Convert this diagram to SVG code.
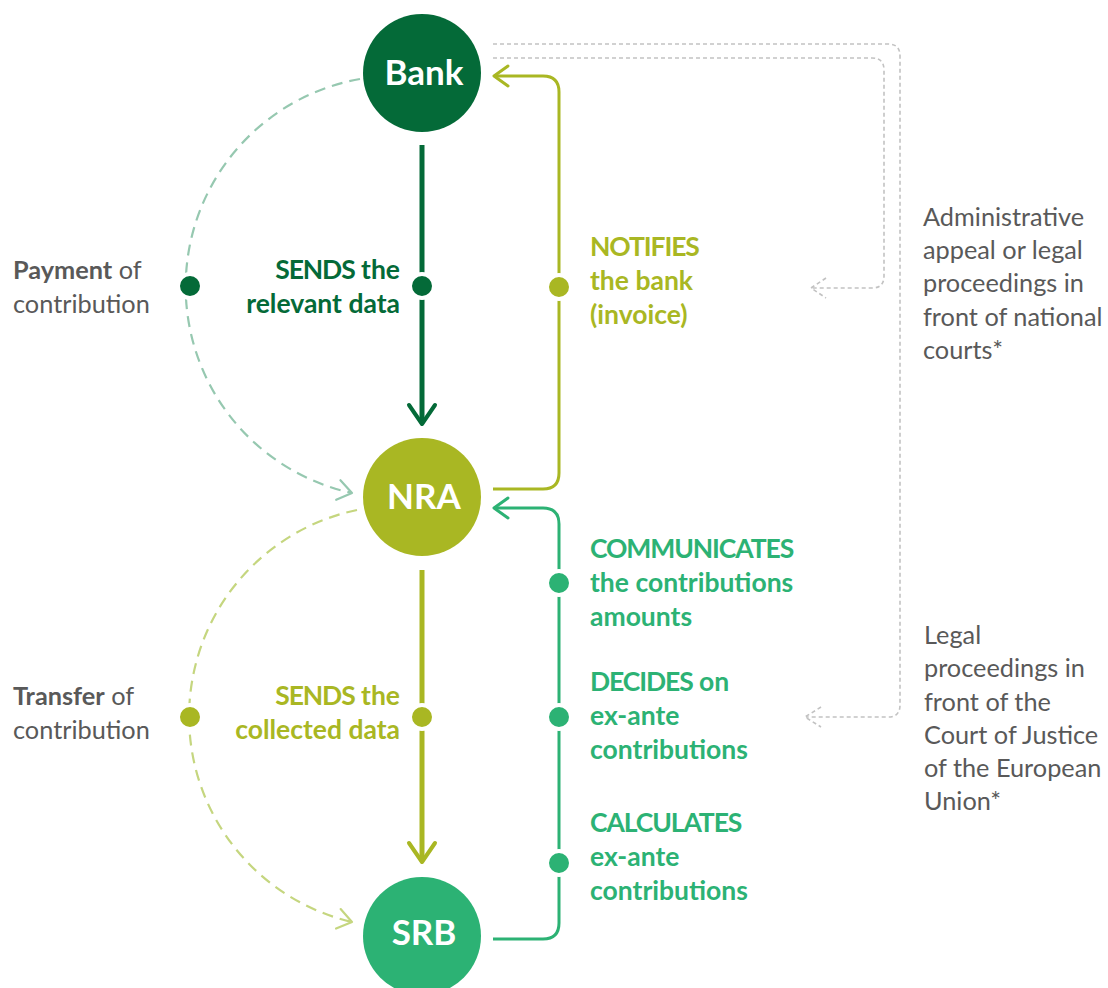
<svg xmlns="http://www.w3.org/2000/svg" width="1108" height="988" viewBox="0 0 1108 988">
  <style>
    .node-label { font-family: Lato, "Open Sans", sans-serif; font-weight: 700; font-size: 35px; fill: #ffffff; text-anchor: middle; }
    .lbl { font-family: Lato, "Open Sans", sans-serif; font-weight: 700; font-size: 26.5px; }
    .caps { letter-spacing: -1.1px; }
    .note { font-family: Lato, "Open Sans", sans-serif; font-weight: 400; font-size: 25.3px; fill: #595959; }
    .note .b { font-weight: 700; }
    .dkgreen { fill: #046a38; }
    .olive { fill: #a9b723; }
    .green { fill: #2cb274; }
    .dot { stroke: #ffffff; stroke-width: 4; }
    .gray-dotted { fill: none; stroke: #c2c2c2; stroke-width: 1.6; stroke-dasharray: 4 3; }
    .head { fill: none; stroke-linecap: round; stroke-linejoin: round; }
  </style>
  <defs>
    <marker id="head-teal" markerUnits="userSpaceOnUse" markerWidth="30" markerHeight="30" viewBox="-20 -15 30 30" refX="0" refY="0" orient="auto">
      <path d="M-14,-10 L0,0 L-14,10" fill="none" stroke="#96c8b0" stroke-width="2.2" stroke-linecap="round" stroke-linejoin="round"/>
    </marker>
    <marker id="head-lime" markerUnits="userSpaceOnUse" markerWidth="30" markerHeight="30" viewBox="-20 -15 30 30" refX="0" refY="0" orient="auto">
      <path d="M-14,-10 L0,0 L-14,10" fill="none" stroke="#c5d67f" stroke-width="2.2" stroke-linecap="round" stroke-linejoin="round"/>
    </marker>
  </defs>

  <rect width="1108" height="988" fill="#ffffff"/>

  <g id="connectors">
    <!-- appeal routes (gray dotted) -->
    <path class="gray-dotted" d="M493,44 H888 Q900,44 900,56 V705 Q900,717 888,717 H806"/>
    <path class="gray-dotted" d="M821,707 L805,717 L821,727" stroke-dasharray="none"/>
    <path class="gray-dotted" d="M493,58 H872 Q884,58 884,70 V276 Q884,288 872,288 H812"/>
    <path class="gray-dotted" d="M826,278 L811,288 L826,298" stroke-dasharray="none"/>

    <!-- payment of contribution: bank -> NRA -->
    <path d="M360,79 A211,211 0 0 0 352,493" fill="none" stroke="#96c8b0" stroke-width="2.2" stroke-dasharray="11 7" marker-end="url(#head-teal)"/>
    <!-- transfer of contribution: NRA -> SRB -->
    <path d="M357,510 A211,211 0 0 0 352,922" fill="none" stroke="#c5d67f" stroke-width="2.2" stroke-dasharray="11 7" marker-end="url(#head-lime)"/>

    <!-- bank sends data to NRA -->
    <path d="M422,145 V423" stroke="#046a38" stroke-width="5" fill="none"/>
    <path class="head" d="M409,405 L422,424 L435,405" stroke="#046a38" stroke-width="4"/>
    <!-- NRA sends collected data to SRB -->
    <path d="M422,570 V861" stroke="#a9b723" stroke-width="5" fill="none"/>
    <path class="head" d="M409,843 L422,862 L435,843" stroke="#a9b723" stroke-width="4"/>

    <!-- NRA notifies the bank -->
    <path d="M493,489 H543 Q559,489 559,473 V92 Q559,76 543,76 H495" fill="none" stroke="#a9b723" stroke-width="3"/>
    <path class="head" d="M508,66 L494,76 L508,86" stroke="#a9b723" stroke-width="3"/>
    <!-- SRB communicates to NRA -->
    <path d="M493,939 H543 Q559,939 559,923 V524 Q559,508 543,508 H495" fill="none" stroke="#2cb274" stroke-width="3"/>
    <path class="head" d="M508,498 L494,508 L508,518" stroke="#2cb274" stroke-width="3"/>

    <!-- step markers -->
    <circle class="dot dkgreen" cx="190" cy="286" r="12"/>
    <circle class="dot dkgreen" cx="422" cy="286" r="12"/>
    <circle class="dot olive" cx="559" cy="287" r="12"/>
    <circle class="dot olive" cx="190" cy="717" r="12"/>
    <circle class="dot olive" cx="422" cy="717" r="12"/>
    <circle class="dot green" cx="559" cy="583" r="12"/>
    <circle class="dot green" cx="559" cy="717" r="12"/>
    <circle class="dot green" cx="559" cy="863" r="12"/>
  </g>

  <g id="bank">
    <circle cx="422" cy="73" r="59" fill="#046a38"/>
    <text class="node-label" x="424" y="85">Bank</text>
  </g>
  <g id="nra">
    <circle cx="422" cy="497" r="59" fill="#a9b723"/>
    <text class="node-label" x="424" y="509">NRA</text>
  </g>
  <g id="srb">
    <circle cx="422" cy="936" r="59" fill="#2cb274"/>
    <text class="node-label" x="424" y="945">SRB</text>
  </g>

  <g id="label-payment">
    <text class="note" x="13" y="279"><tspan class="b">Payment</tspan> of</text>
    <text class="note" x="13" y="313">contribution</text>
  </g>
  <g id="label-transfer">
    <text class="note" x="13" y="705"><tspan class="b">Transfer</tspan> of</text>
    <text class="note" x="13" y="739">contribution</text>
  </g>

  <g id="label-sends-relevant">
    <text class="lbl dkgreen" x="400" y="279" text-anchor="end"><tspan class="caps">SENDS</tspan> the</text>
    <text class="lbl dkgreen" x="400" y="313" text-anchor="end">relevant data</text>
  </g>
  <g id="label-sends-collected">
    <text class="lbl olive" x="400" y="705" text-anchor="end"><tspan class="caps">SENDS</tspan> the</text>
    <text class="lbl olive" x="400" y="739" text-anchor="end">collected data</text>
  </g>

  <g id="label-notifies">
    <text class="lbl olive caps" x="590" y="256">NOTIFIES</text>
    <text class="lbl olive" x="590" y="290">the bank</text>
    <text class="lbl olive" x="590" y="324">(invoice)</text>
  </g>
  <g id="label-communicates">
    <text class="lbl green caps" x="590" y="558">COMMUNICATES</text>
    <text class="lbl green" x="590" y="592">the contributions</text>
    <text class="lbl green" x="590" y="626">amounts</text>
  </g>
  <g id="label-decides">
    <text class="lbl green" x="590" y="691"><tspan class="caps">DECIDES</tspan> on</text>
    <text class="lbl green" x="590" y="725">ex-ante</text>
    <text class="lbl green" x="590" y="759">contributions</text>
  </g>
  <g id="label-calculates">
    <text class="lbl green caps" x="590" y="832">CALCULATES</text>
    <text class="lbl green" x="590" y="866">ex-ante</text>
    <text class="lbl green" x="590" y="900">contributions</text>
  </g>

  <g id="label-national-courts">
    <text class="note" x="923" y="226">Administrative</text>
    <text class="note" x="923" y="259">appeal or legal</text>
    <text class="note" x="923" y="292">proceedings in</text>
    <text class="note" x="923" y="326">front of national</text>
    <text class="note" x="923" y="359">courts*</text>
  </g>
  <g id="label-cjeu">
    <text class="note" x="924" y="644">Legal</text>
    <text class="note" x="924" y="677">proceedings in</text>
    <text class="note" x="924" y="711">front of the</text>
    <text class="note" x="924" y="744">Court of Justice</text>
    <text class="note" x="924" y="777">of the European</text>
    <text class="note" x="924" y="810">Union*</text>
  </g>
</svg>
